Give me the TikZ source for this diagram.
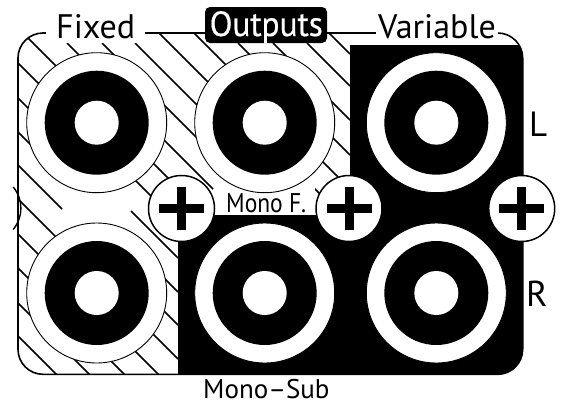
\documentclass[tikz,border=0pt]{standalone}
\usepackage{fontspec}
\setmainfont{PT Sans}
\newfontfamily\outfont[FakeBold=0.5]{PT Sans}
\tikzset{
  hatchline/.style={line width=1.6pt},
  jackring/.style={circle,draw=black,line width=0.9pt,fill=white,minimum size=140pt,inner sep=0pt},
  jackcore/.style={circle,fill=black,minimum size=104pt,inner sep=0pt},
  jackhole/.style={circle,fill=white,minimum size=44pt,inner sep=0pt},
  screwhead/.style={circle,draw=black,line width=1.5pt,fill=white,minimum size=66pt,inner sep=0pt},
  lab/.style={anchor=base west,inner sep=0pt,text=black},
}
\newcommand{\jack}[3]{%
  \node[jackring] (#1) at (#2,#3) {};
  \node[jackcore] (#1c) at (#2,#3) {};
  \node[jackhole] (#1h) at (#2,#3) {};
}
\newcommand{\screw}[3]{%
  \node[screwhead] (#1) at (#2,#3) {};
  \fill (#2-22.5,#3-4.8) rectangle (#2+22.5,#3+4.8);
  \fill (#2-4.5,#3-21.5) rectangle (#2+4.5,#3+21.5);
}
\begin{document}
\begin{tikzpicture}[x=1pt,y=-1pt]
\useasboundingbox (0,0) rectangle (562,402);
\def\frm{[rounded corners=25pt] (18,33) rectangle (522.7,374.3)}
% hatching
\begin{scope}
\clip \frm;
\foreach \c/\a/\b in {-296/326/350,-264/307/350,-230/273/350,-195/238/350,-161/194/350,-126/159/330,
  -92/135/200,-59/102/200,-24/67/213,10/18/175,45/18/165,80/18/40,80/131/178,114/18/40,114/160/178,
  147/18/62,147/155/178,181/18/178,216/18/178,250/18/178,285/18/178,318/18/178}{
  \draw[hatchline] (\a,\a+\c) -- (\b,\b+\c);
}
\fill[black] (178,380) -- (178,215) -- (350,215) -- (350,45) -- (530,45) -- (530,380) -- cycle;
\end{scope}
\draw[line width=1.6pt] \frm;
\fill[white] (46,14) rectangle (145,43);
\fill[white] (376,14) rectangle (498,44);
\fill[white] (216,170) rectangle (315,215);
% jacks
\jack{a}{96.7}{122.7}
\jack{b}{264.7}{122.7}
\jack{c}{436.3}{122.7}
\jack{d}{96.7}{293}
\jack{e}{264.7}{293}
\jack{f}{436.3}{293}
% screws
\screw{s1}{181.5}{208.5}
\screw{s2}{349}{208.5}
\screw{s3}{521.7}{208.5}
\draw[line width=1.4pt] (13.2,187) arc[start angle=40,end angle=-40,radius=33pt];
% labels
\node[lab] (fixed) at (56,38) {\fontsize{34}{34}\selectfont Fixed};
\fill[black,rounded corners=5pt] (205,7) rectangle (327,43);
\node[lab,text=white] (outputs) at (209.5,36) {\scalebox{.95}[1]{\fontsize{35}{35}\outfont Outputs}};
\node[lab] (variable) at (378,38) {\fontsize{34}{34}\selectfont Variable};
\node[lab] (ll) at (529,136) {\fontsize{35}{35}\selectfont L};
\node[lab] (rr) at (526,306) {\fontsize{36}{36}\selectfont R};
\node[lab] (monof) at (226,212) {\scalebox{.87}[1]{\fontsize{27}{27}\selectfont Mono F.}};
\node[lab] (monosub) at (203,398) {\fontsize{27}{27}\selectfont Mono–Sub};
\end{tikzpicture}
\end{document}
